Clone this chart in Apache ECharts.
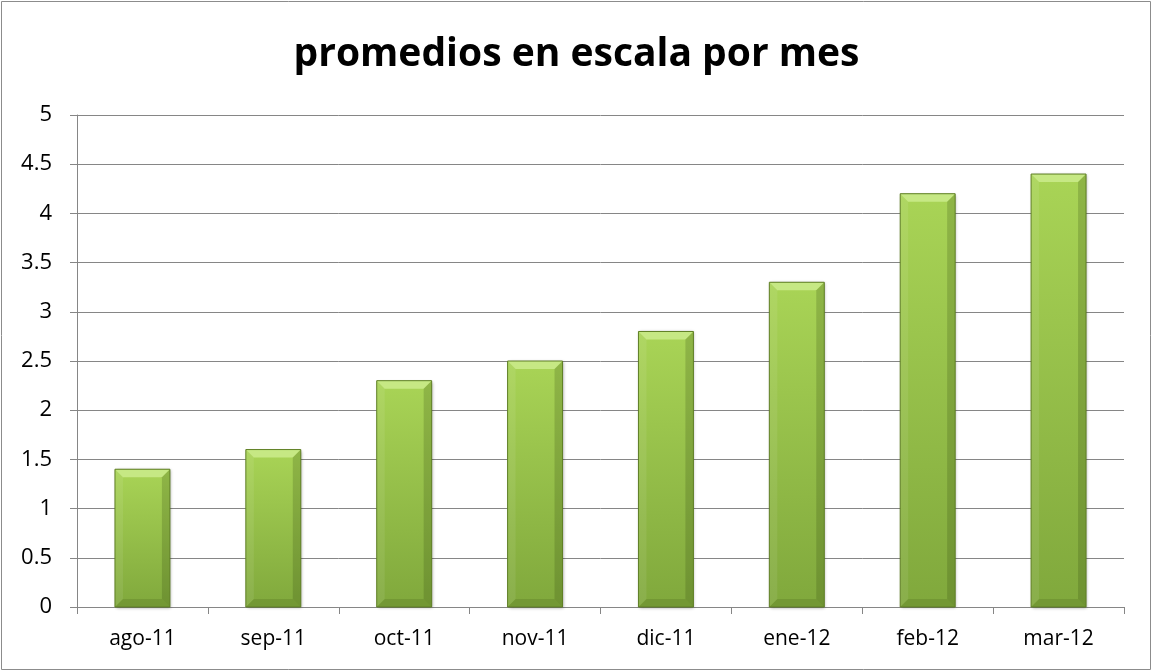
<!DOCTYPE html>
<html>
<head>
<meta charset="utf-8">
<script src="https://cdn.jsdelivr.net/npm/echarts@6/dist/echarts.min.js"></script>
<style>html,body{margin:0;padding:0;background:#fff}#c{width:1153px;height:672px}</style>
</head>
<body>
<div id="c"></div>
<script>
const categories = ['ago-11','sep-11','oct-11','nov-11','dic-11','ene-12','feb-12','mar-12'];
const values = [1.4, 1.6, 2.3, 2.5, 2.8, 3.3, 4.2, 4.4];
const titleText = 'promedios en escala por mes';

const chart = echarts.init(document.getElementById('c'), null, {renderer: 'canvas'});
const FONT = '"Open Sans", "Noto Sans", sans-serif';

function renderItem(params, api) {
  const x = api.value(0), y = api.value(1);
  const top = api.coord([x, y]);
  const base = api.coord([x, 0]);
  const w = api.size([1, 0])[0] * 0.42;
  const x0 = top[0] - w / 2, x1 = top[0] + w / 2;
  const y0 = top[1], y1 = base[1];
  const b = 8;
  return {
    type: 'group',
    children: [
      {type: 'rect', shape: {x: x0, y: y0, width: w, height: y1 - y0},
       style: {fill: new echarts.graphic.LinearGradient(0, 0, 0, 1, [
         {offset: 0, color: '#a9d456'}, {offset: 1, color: '#80a83c'}]),
         shadowBlur: 3, shadowColor: 'rgba(0,0,0,0.35)', shadowOffsetX: 1, shadowOffsetY: 1}},
      {type: 'polygon', shape: {points: [[x0, y0], [x1, y0], [x1 - b, y0 + b], [x0 + b, y0 + b]]},
       style: {fill: '#c6e884'}},
      {type: 'polygon', shape: {points: [[x0, y0], [x0 + b, y0 + b], [x0 + b, y1 - b], [x0, y1]]},
       style: {fill: 'rgba(255,255,255,0.08)'}},
      {type: 'polygon', shape: {points: [[x1, y0], [x1, y1], [x1 - b, y1 - b], [x1 - b, y0 + b]]},
       style: {fill: 'rgba(40,60,10,0.20)'}},
      {type: 'polygon', shape: {points: [[x0, y1], [x1, y1], [x1 - b, y1 - b], [x0 + b, y1 - b]]},
       style: {fill: 'rgba(40,60,10,0.15)'}},
      {type: 'rect', shape: {x: x0, y: y0, width: w, height: y1 - y0},
       style: {fill: 'none', stroke: '#5f7f25', lineWidth: 1}}
    ]
  };
}

chart.setOption({
  animation: false,
  backgroundColor: '#fff',
  title: {
    text: titleText, left: 'center', top: 30,
    textStyle: {fontFamily: FONT, fontWeight: 'bold', fontSize: 39, color: '#000'}
  },
  graphic: [{type: 'rect', shape: {x: 1.5, y: 1.5, width: 1149, height: 668},
    style: {fill: 'none', stroke: '#8c8c8c', lineWidth: 1}, silent: true}],
  grid: {left: 77, right: 29, top: 115, bottom: 65},
  xAxis: {
    type: 'category', data: categories,
    axisLine: {lineStyle: {color: '#868686'}},
    axisTick: {show: true, length: 7, alignWithLabel: false, lineStyle: {color: '#868686'}},
    axisLabel: {fontFamily: FONT, fontSize: 21, color: '#000', margin: 22}
  },
  yAxis: {
    type: 'value', min: 0, max: 5, interval: 0.5,
    axisLine: {show: true, lineStyle: {color: '#868686'}},
    axisTick: {show: true, length: 7, lineStyle: {color: '#868686'}},
    splitLine: {lineStyle: {color: '#868686'}},
    axisLabel: {fontFamily: FONT, fontSize: 22, color: '#000', margin: 25}
  },
  series: [{
    type: 'custom', renderItem: renderItem,
    encode: {x: 0, y: 1},
    data: values.map((v, i) => [i, v])
  }]
});
</script>
</body>
</html>
